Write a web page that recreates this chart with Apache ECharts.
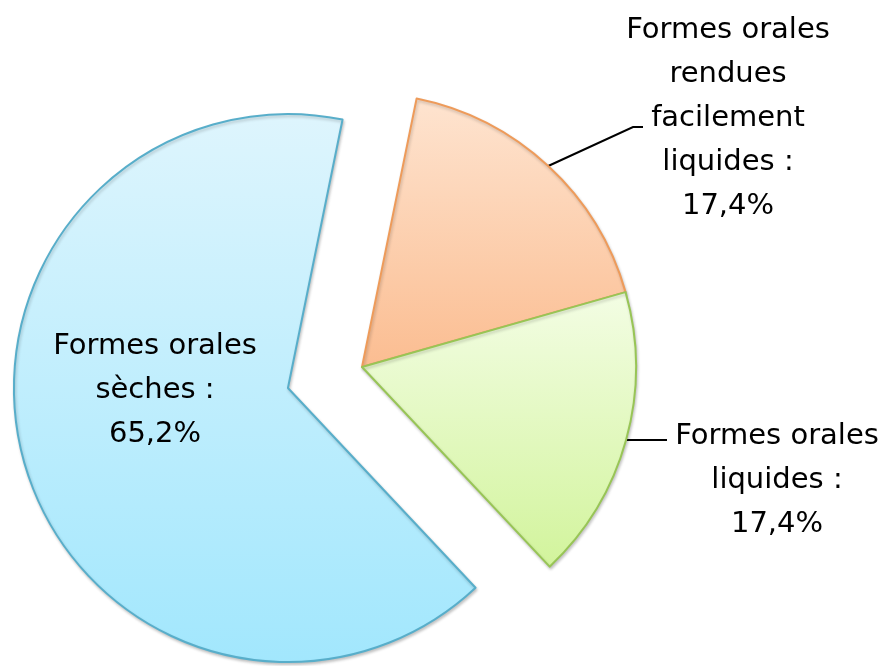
<!DOCTYPE html>
<html>
<head>
<meta charset="utf-8">
<script src="https://cdn.jsdelivr.net/npm/echarts@6/dist/echarts.min.js"></script>
<style>
html,body{margin:0;padding:0;background:#fff;}
#chart{width:887px;height:666px;}
</style>
</head>
<body>
<div id="chart"></div>
<script>
// Data
const categories = ['Formes orales rendues facilement liquides', 'Formes orales liquides', 'Formes orales sèches'];
const values = [17.4, 17.4, 65.2];
const labelNames = ['Formes orales\nrendues\nfacilement\nliquides :', 'Formes orales\nliquides :', 'Formes orales\nsèches :'];

// Styles
const fills = [
  ['#fee4d0', '#fbbd91'],
  ['#f3fde4', '#d2f49c'],
  ['#def5fd', '#a2e7fd']
];
const borders = ['#ee9b5a', '#98c556', '#58aeca'];
const FONT = 'DejaVu Sans';
const FONT_SIZE = 29;
const LINE_H = 44;
// label layout (centre of label text block) and leader-line end
const labelPos = [
  { x: 728, y: 118, bend: [633, 127], end: [643, 127] },
  { x: 777, y: 480, endX: 667 },
  { x: 155, y: 390, inside: true }
];

function labelText(i) {
  return labelNames[i] + '\n' + values[i].toFixed(1).replace('.', ',') + '%';
}

const chart = echarts.init(document.getElementById('chart'), null, { renderer: 'canvas' });

const data = categories.map((c, i) => {
  const item = {
    name: c,
    value: values[i],
    itemStyle: {
      color: new echarts.graphic.LinearGradient(0, 0, 0, 1, [
        { offset: 0, color: fills[i][0] },
        { offset: 1, color: fills[i][1] }
      ]),
      borderColor: borders[i],
      borderWidth: 2
    }
  };
  if (labelPos[i].inside) {
    item.selected = true;
    item.label = { show: false };
    item.labelLine = { show: false };
  }
  return item;
});

// inside label(s) drawn as text at their layout position
const insideLabels = labelPos.map((lp, i) => lp.inside ? {
  type: 'text',
  x: lp.x,
  y: lp.y,
  z: 100,
  style: {
    text: labelText(i),
    fill: '#000',
    font: FONT_SIZE + 'px "' + FONT + '"',
    lineHeight: LINE_H,
    align: 'center',
    verticalAlign: 'middle'
  }
} : null).filter(Boolean);

chart.setOption({
  backgroundColor: '#ffffff',
  animation: false,
  graphic: insideLabels,
  series: [{
    type: 'pie',
    center: [362, 367],
    radius: 274,
    startAngle: 78.5,
    clockwise: true,
    selectedMode: 'single',
    selectedOffset: 77,
    avoidLabelOverlap: false,
    emphasis: { disabled: true },
    itemStyle: {
      shadowBlur: 3,
      shadowColor: 'rgba(0,0,0,0.2)',
      shadowOffsetX: 1,
      shadowOffsetY: 2
    },
    label: {
      show: true,
      position: 'outside',
      color: '#000',
      fontFamily: FONT,
      fontSize: FONT_SIZE,
      lineHeight: LINE_H,
      align: 'center',
      formatter: function (p) { return labelText(p.dataIndex); }
    },
    labelLine: {
      show: true,
      length: 20,
      length2: 10,
      lineStyle: { color: '#000', width: 2 }
    },
    labelLayout: function (params) {
      const i = params.dataIndex;
      const lp = labelPos[i];
      if (!lp || lp.inside) return {};
      const res = { x: lp.x, y: lp.y, align: 'center', verticalAlign: 'middle' };
      if (params.labelLinePoints) {
        const p0 = params.labelLinePoints[0];
        if (lp.bend) {
          res.labelLinePoints = [p0, lp.bend, lp.end];
        } else {
          res.labelLinePoints = [p0, [(p0[0] + lp.endX) / 2, p0[1]], [lp.endX, p0[1]]];
        }
      }
      return res;
    },
    data: data
  }]
});
</script>
</body>
</html>
